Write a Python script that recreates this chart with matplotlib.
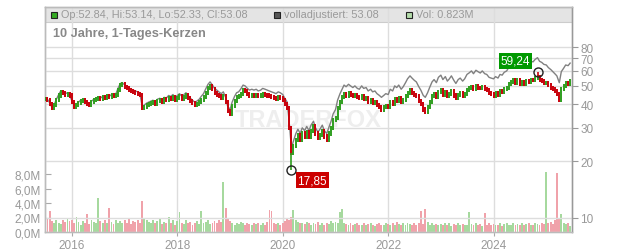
import matplotlib
matplotlib.use("Agg")
import matplotlib.pyplot as plt
import matplotlib.dates as mdates
from matplotlib.patches import Rectangle
from matplotlib.ticker import FixedLocator, FixedFormatter, NullLocator
import numpy as np
import pandas as pd

plt.rcParams['font.family'] = ['Liberation Sans', 'DejaVu Sans']

# semi-monthly samples, Jul 2015 .. Jun 2025 (one row = half a year)
close_rows = [
    [42.5, 42.0, 40.0, 38.0, 39.5, 42.0, 44.5, 46.5, 46.0, 45.0, 45.5, 44.5],
    [41.0, 38.8, 39.5, 40.5, 41.5, 42.0, 41.0, 40.0, 39.5, 41.0, 42.0, 42.5],
    [43.0, 42.5, 43.5, 43.0, 44.0, 43.5, 44.5, 44.0, 45.0, 47.5, 50.5, 51.0],
    [49.5, 48.5, 47.5, 47.0, 46.5, 46.0, 45.5, 45.0, 38.0, 38.5, 39.5, 40.0],
    [40.5, 41.0, 40.0, 41.5, 42.0, 41.0, 42.5, 42.0, 43.0, 42.5, 43.5, 42.0],
    [43.0, 44.0, 42.5, 43.5, 44.5, 43.0, 41.5, 40.5, 39.5, 40.0, 41.0, 42.0],
    [43.5, 46.0, 48.5, 50.0, 48.0, 46.0, 45.0, 44.0, 43.0, 44.0, 41.0, 37.0],
    [35.5, 39.0, 41.5, 43.5, 44.0, 45.5, 47.5, 47.0, 45.5, 44.5, 45.0, 44.5],
    [45.0, 44.0, 44.5, 45.5, 45.0, 44.5, 44.0, 43.5, 43.0, 42.5, 43.5, 43.0],
    [42.0, 40.0, 38.0, 30.0, 22.0, 24.0, 26.0, 27.5, 26.0, 28.0, 27.0, 28.5],
    [27.0, 29.0, 30.5, 28.0, 26.5, 27.5, 29.0, 27.0, 26.0, 28.0, 30.0, 33.0],
    [34.0, 38.0, 41.0, 43.5, 45.5, 44.5, 46.0, 45.0, 44.0, 45.0, 43.5, 43.0],
    [44.0, 42.5, 43.0, 41.0, 42.0, 40.5, 41.0, 39.5, 38.5, 37.5, 38.5, 39.0],
    [38.5, 41.0, 40.0, 42.5, 41.5, 43.0, 41.0, 42.0, 44.0, 46.0, 47.5, 46.0],
    [45.0, 44.0, 41.5, 40.0, 37.5, 36.5, 38.5, 41.0, 44.0, 45.5, 43.5, 46.5],
    [47.5, 45.0, 46.5, 44.0, 45.5, 47.0, 44.5, 43.0, 45.0, 46.0, 44.0, 45.5],
    [47.5, 48.5, 49.5, 48.0, 50.0, 49.0, 48.5, 49.5, 48.0, 47.5, 46.0, 45.5],
    [44.5, 46.0, 45.0, 47.0, 46.5, 48.0, 49.0, 51.0, 52.5, 53.5, 52.0, 54.0],
    [51.0, 52.5, 51.5, 53.0, 52.5, 54.0, 53.5, 55.0, 56.0, 54.0, 53.0, 52.0],
    [52.0, 50.5, 49.0, 48.0, 47.0, 45.5, 42.0, 48.0, 50.0, 52.0, 51.5, 53.08],
]

adjusted_rows = [
    [43.0, 42.5, 40.5, 38.5, 40.0, 42.5, 45.0, 47.0, 46.5, 45.5, 46.0, 45.0],
    [41.5, 39.5, 40.0, 41.0, 42.0, 42.5, 41.5, 40.5, 40.0, 41.5, 42.5, 43.0],
    [43.5, 43.0, 44.0, 43.5, 44.5, 44.0, 45.0, 44.5, 45.5, 48.5, 51.5, 52.0],
    [50.5, 49.5, 48.5, 48.0, 47.5, 47.0, 46.5, 46.0, 39.0, 39.5, 40.5, 41.0],
    [41.5, 42.0, 41.0, 42.5, 43.0, 42.0, 43.5, 43.0, 44.5, 44.0, 45.0, 43.5],
    [44.5, 45.5, 44.0, 45.0, 46.0, 44.5, 43.0, 42.0, 41.0, 41.5, 42.5, 44.0],
    [45.5, 48.0, 51.0, 52.5, 50.5, 48.5, 47.5, 46.5, 45.5, 46.5, 43.5, 39.0],
    [37.5, 41.0, 44.0, 46.0, 46.5, 48.0, 50.5, 50.0, 48.5, 47.5, 48.0, 47.5],
    [48.0, 47.0, 47.5, 48.5, 48.0, 47.5, 47.0, 46.5, 46.0, 45.5, 46.5, 46.0],
    [45.0, 43.0, 41.0, 32.0, 23.5, 25.5, 28.0, 29.5, 28.0, 30.0, 29.0, 30.5],
    [29.0, 31.0, 32.5, 30.0, 28.5, 29.5, 31.0, 29.0, 28.0, 30.0, 32.5, 35.5],
    [37.5, 42.0, 45.5, 48.0, 50.5, 49.5, 51.0, 50.0, 49.0, 50.0, 48.5, 48.0],
    [50.0, 48.5, 49.0, 47.0, 48.0, 46.5, 47.0, 45.5, 44.5, 43.5, 44.5, 45.5],
    [45.0, 48.0, 47.0, 50.0, 49.0, 50.5, 48.0, 49.5, 52.0, 54.5, 56.5, 55.0],
    [53.5, 52.5, 49.5, 47.5, 44.5, 43.5, 46.0, 49.0, 52.5, 54.0, 52.0, 55.5],
    [57.0, 54.0, 56.0, 53.0, 54.5, 56.5, 53.5, 51.5, 54.0, 55.0, 53.0, 54.5],
    [57.5, 58.5, 60.0, 58.0, 60.5, 59.5, 58.5, 60.0, 58.0, 57.5, 55.5, 55.0],
    [54.5, 56.0, 55.0, 57.5, 57.0, 59.0, 60.0, 62.5, 64.5, 66.0, 64.0, 66.5],
    [64.0, 65.5, 64.5, 66.5, 65.5, 67.5, 67.0, 69.0, 70.5, 67.5, 66.5, 65.0],
    [64.5, 62.5, 61.0, 59.5, 58.0, 56.5, 52.0, 59.5, 62.0, 64.5, 64.0, 66.0],
]

# volume in millions
volume_rows = [
    [1.4, 1.8, 2.9, 1.5, 1.2, 1.6, 1.3, 1.1, 1.7, 1.4, 1.9, 1.5],
    [1.6, 1.2, 2.1, 1.4, 1.0, 1.5, 1.3, 2.5, 1.1, 1.6, 1.4, 1.3],
    [4.7, 1.5, 1.2, 1.6, 1.3, 3.3, 1.4, 1.1, 1.7, 1.3, 1.5, 1.2],
    [1.6, 1.3, 1.8, 1.1, 1.5, 1.4, 1.7, 1.2, 4.3, 1.9, 1.6, 1.4],
    [1.3, 1.6, 1.2, 1.5, 1.8, 1.1, 1.4, 1.3, 2.1, 1.2, 1.6, 1.0],
    [1.5, 2.7, 1.3, 1.1, 1.6, 1.2, 1.4, 1.0, 1.3, 1.5, 1.1, 2.9],
    [1.2, 1.4, 1.7, 1.1, 1.3, 1.5, 1.2, 1.6, 1.4, 6.9, 3.3, 1.8],
    [1.5, 1.2, 1.0, 1.3, 1.1, 1.4, 1.2, 0.9, 1.3, 1.1, 1.0, 1.2],
    [1.1, 1.3, 0.9, 1.2, 1.0, 1.4, 3.0, 2.9, 1.2, 1.1, 1.3, 1.0],
    [1.2, 1.5, 1.8, 1.6, 2.1, 3.1, 1.7, 1.4, 1.2, 1.3, 1.1, 1.4],
    [1.2, 1.0, 1.3, 1.1, 1.4, 1.0, 1.2, 0.9, 1.3, 1.1, 1.5, 1.2],
    [1.4, 1.2, 2.8, 3.2, 1.3, 1.1, 1.0, 1.2, 0.9, 1.1, 1.3, 1.0],
    [1.0, 1.2, 0.9, 1.1, 1.3, 1.0, 0.8, 1.1, 1.2, 0.9, 1.0, 1.3],
    [1.1, 0.9, 1.2, 1.0, 1.4, 1.1, 0.9, 1.2, 1.0, 1.3, 1.1, 0.9],
    [1.2, 1.0, 1.3, 2.9, 1.1, 3.2, 1.4, 1.0, 1.2, 0.9, 1.1, 1.0],
    [1.1, 0.9, 1.2, 1.0, 1.3, 0.8, 1.1, 1.0, 1.2, 0.9, 1.1, 1.0],
    [1.0, 2.8, 1.1, 0.9, 1.2, 1.0, 1.1, 0.8, 2.6, 1.0, 1.2, 0.9],
    [1.1, 0.9, 1.0, 1.2, 0.8, 1.1, 1.3, 0.9, 1.0, 1.2, 0.9, 1.1],
    [1.0, 1.2, 0.9, 1.1, 1.3, 1.0, 0.9, 1.2, 1.1, 1.0, 1.3, 1.1],
    [8.3, 1.2, 1.4, 1.1, 1.6, 8.2, 1.9, 2.5, 1.3, 1.1, 1.2, 0.823],
]

low_date, low_value = "2020-03-01", 17.85
high_date, high_value = "2024-11-01", 59.24

vol_ticks = [0, 2, 4, 6, 8]
price_ticks = [10, 20, 30, 40, 50, 60, 70, 80]
year_ticks = [2016, 2018, 2020, 2022, 2024]

close = np.array(sum(close_rows, []))
adjusted = np.array(sum(adjusted_rows, []))
volume = np.array(sum(volume_rows, []))
dates = pd.date_range("2015-07-01", periods=len(close), freq="SMS")

opens = np.concatenate([[close[0]], close[:-1]])
up = close >= opens

GREEN = "#2f9e1f"
RED = "#c8000a"
GRID = "#dddddd"
TXT = "#999999"

W, H = 632, 253
fig = plt.figure(figsize=(W / 100, H / 100), dpi=100)
ax_v = fig.add_axes([45 / W, 20 / H, 527 / W, 225 / H])
ax_p = ax_v.twinx()

# header band
ax_v.add_patch(Rectangle((0, (233 - 22.5) / 225), 1, 1 - (233 - 22.5) / 225,
                         transform=ax_v.transAxes, facecolor="#e4e4e4",
                         edgecolor="#cccccc", lw=0.8, zorder=0.2))
ax_v.set_axisbelow(True)

# volume
ax_v.bar(dates, volume, width=13, color=np.where(up, "#a6d99e", "#f0a2aa"),
         linewidth=0, zorder=1)
ax_v.set_ylim(0, 225 / 7.25)
ax_v.yaxis.set_major_locator(FixedLocator(vol_ticks))
ax_v.yaxis.set_major_formatter(FixedFormatter([f"{v:.1f}M".replace(".", ",") for v in vol_ticks]))
ax_v.tick_params(axis="y", direction="in", length=4, color="#aaaaaa",
                 labelcolor=TXT, labelsize=8.5, pad=3)

# price
ax_p.set_yscale("log")
ax_p.set_ylim(10 ** (1 - 14 / 189), 10 ** (1 + 211 / 189))
ax_p.yaxis.set_major_locator(FixedLocator(price_ticks))
ax_p.yaxis.set_major_formatter(FixedFormatter([str(v) for v in price_ticks]))
ax_p.yaxis.set_minor_locator(NullLocator())
ax_p.tick_params(axis="y", direction="out", length=4, color="#999999",
                 labelcolor=TXT, labelsize=8.5, pad=2)
ax_p.grid(axis="y", color=GRID, lw=1, zorder=0)

ax_p.plot(dates, adjusted, color="#808080", lw=1.0, zorder=2)
ax_p.vlines(dates, np.minimum(opens, close) * 0.975, np.maximum(opens, close) * 1.025,
            colors=np.where(up, GREEN, RED), lw=1.4, zorder=3)

# extremes
ld, hd = pd.Timestamp(low_date), pd.Timestamp(high_date)
li = dates.get_loc(ld)
hi = dates.get_loc(hd)
ax_p.vlines([ld], low_value, close[li], colors=GREEN, lw=1.2, zorder=3)
ax_p.vlines([hd], close[hi], high_value, colors=RED, lw=1.2, zorder=3)
for d, v in [(ld, low_value), (hd, high_value)]:
    ax_p.plot([d], [v], marker="o", ms=6.5, mfc="none", mec="#222222", mew=1, zorder=4)
ax_p.annotate(f"{low_value:.2f}".replace(".", ","), xy=(ld, low_value),
              xytext=(15, -7), textcoords="offset points", ha="center", va="center",
              color="white", fontsize=8.5, zorder=5,
              bbox=dict(boxstyle="square,pad=0.15", fc="#cc0000", ec="none"))
ax_p.annotate(f"{high_value:.2f}".replace(".", ","), xy=(hd, high_value),
              xytext=(-16, 8), textcoords="offset points", ha="center", va="center",
              color="white", fontsize=8.5, zorder=5,
              bbox=dict(boxstyle="square,pad=0.15", fc="#009900", ec="none"))

# x axis
ax_v.set_xlim(pd.Timestamp("2015-06-28"), pd.Timestamp("2025-06-28"))
ax_v.xaxis.set_major_locator(FixedLocator([mdates.date2num(pd.Timestamp(f"{y}-01-01")) for y in year_ticks]))
ax_v.xaxis.set_major_formatter(FixedFormatter([str(y) for y in year_ticks]))
ax_v.tick_params(axis="x", direction="out", length=3, color="#aaaaaa",
                 labelcolor=TXT, labelsize=8.5, pad=2)
ax_v.grid(axis="x", color=GRID, lw=1)

for ax in (ax_v, ax_p):
    for s in ax.spines.values():
        s.set_color("#bbbbbb")
        s.set_linewidth(1)
ax_p.spines["right"].set_color("#999999")
ax_v.spines["bottom"].set_color("#dddddd")

# watermark
ax_p.text(0.5, 0.5, "TRADERFOX", transform=ax_p.transAxes, ha="center", va="center",
          fontsize=17, fontweight="bold", color="#eeeeee", zorder=0.5)

# header legend
def fx(px):
    return px / W

def fy(py):
    return 1 - py / H

for x0, col in [(50.5, "#33aa22"), (274, "#555555"), (405.5, "#b4dcaa")]:
    fig.patches.append(Rectangle((fx(x0), fy(18.5)), 6 / W, 6 / H, transform=fig.transFigure,
                                 facecolor=col, edgecolor="#222222", lw=0.8, zorder=5))
for x0, label in [(61, "Op:52.84, Hi:53.14, Lo:52.33, Cl:53.08"),
                  (283.5, "volladjustiert: 53.08"),
                  (416, "Vol: 0.823M")]:
    fig.text(fx(x0), fy(15.5), label, ha="left", va="center", color=TXT, fontsize=7.8)

fig.text(fx(53), fy(34), "10 Jahre, 1-Tages-Kerzen", ha="left", va="center",
         color="#888888", fontsize=9.2, fontweight="bold")

fig.savefig("out.png", dpi=100)
